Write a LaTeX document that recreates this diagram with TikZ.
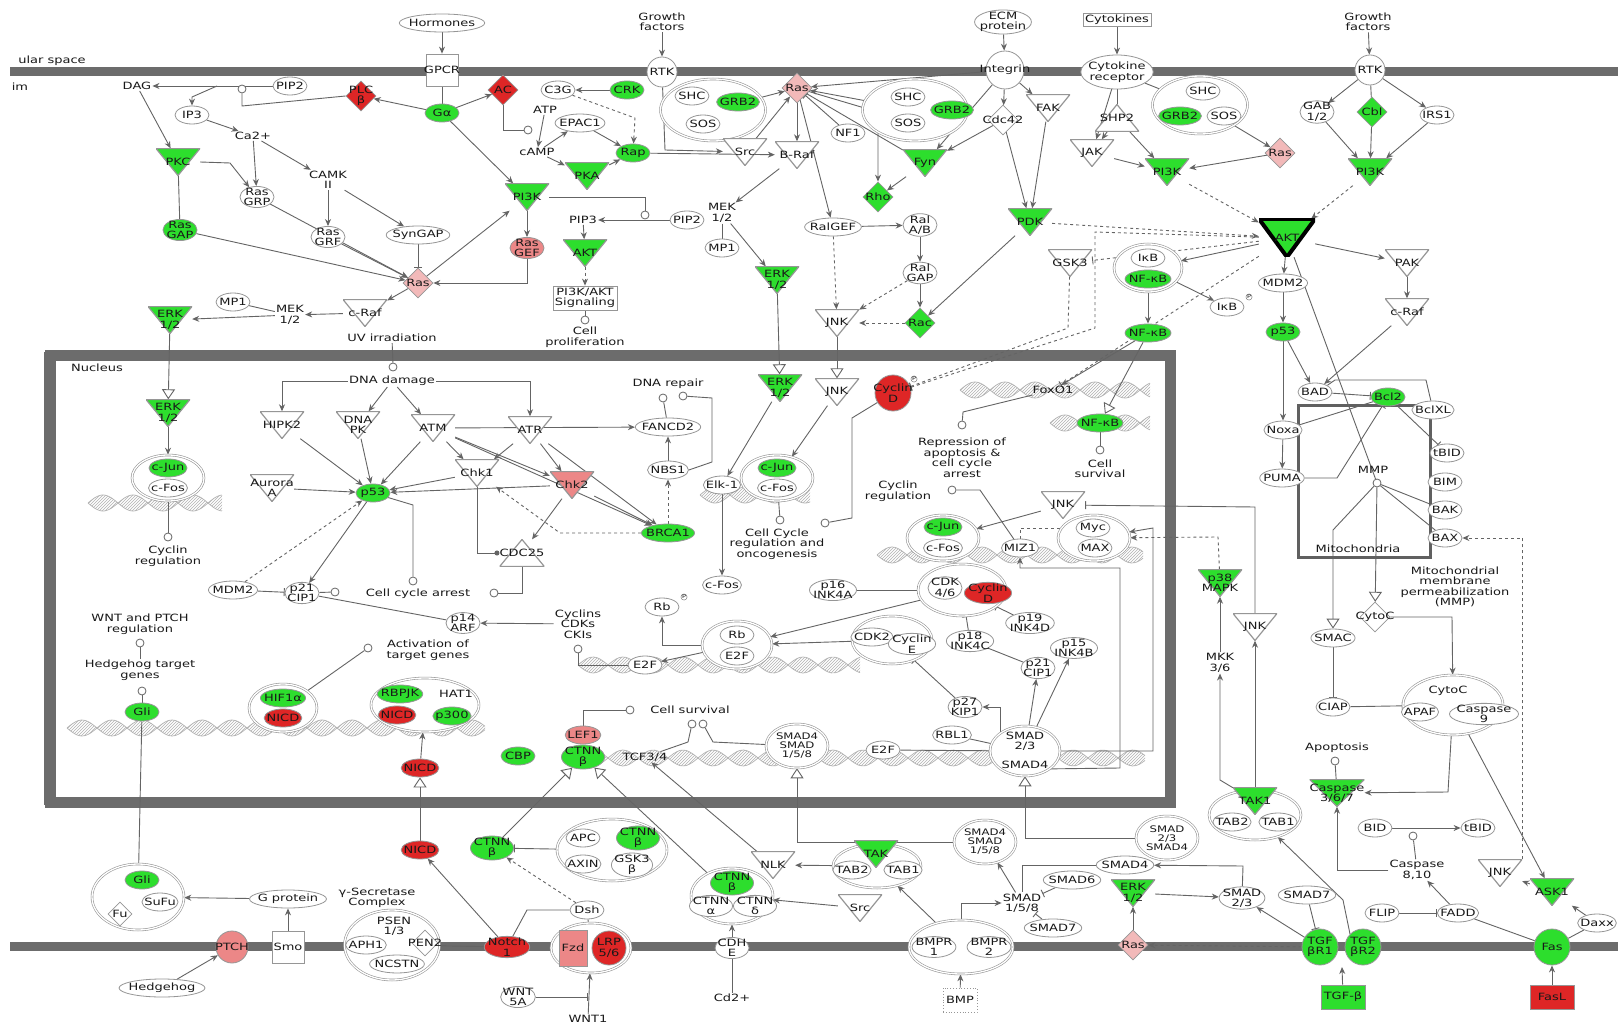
\documentclass[tikz,border=0pt]{standalone}
\usepackage{fontspec}
\setmainfont{DejaVu Sans}[FakeStretch=1.3]
\usetikzlibrary{shapes.geometric,arrows.meta,patterns}
\definecolor{gG}{RGB}{45,222,45}
\definecolor{rR}{RGB}{222,38,38}
\definecolor{pP}{RGB}{236,135,135}
\definecolor{lP}{RGB}{242,185,185}
\definecolor{edg}{RGB}{100,100,100}
\definecolor{olc}{RGB}{150,150,150}
\definecolor{mem}{RGB}{108,108,108}
\pgfdeclarelayer{back}
\pgfdeclarelayer{edges}
\pgfsetlayers{back,edges,main}
\newcommand{\dnastrand}[3]{%
 \fill[pattern=north east lines, pattern color=gray!60] plot[domain=#1:#2,samples=90,smooth] (\x,{#3+8*sin(6*(\x-#1))}) -- plot[domain=#2:#1,samples=90,smooth] (\x,{#3-8*sin(6*(\x-#1))}) -- cycle;
 \draw[gray!60,line width=0.7pt] plot[domain=#1:#2,samples=90,smooth] (\x,{#3+8*sin(6*(\x-#1))});
 \draw[gray!60,line width=0.7pt] plot[domain=#1:#2,samples=90,smooth] (\x,{#3-8*sin(6*(\x-#1))});
}
\begin{document}
\begin{tikzpicture}[x=1pt,y=-1pt,
 every node/.style={font=\fontsize{10}{10.5}\selectfont, text=black!90, align=center},
 ellN/.style={ellipse, draw=olc, fill=#1, inner xsep=-3pt, inner ysep=-1.5pt, minimum width=34pt, minimum height=18pt, line width=0.8pt},
 ellN/.default=white,
 triN/.style={rectangle, inner sep=0pt, minimum width=44pt, minimum height=27pt, path picture={\fill[#1] (path picture bounding box.north west) -- (path picture bounding box.north east) -- (path picture bounding box.south) -- cycle; \draw[olc, line width=1.2pt] (path picture bounding box.north west) -- (path picture bounding box.north east) -- (path picture bounding box.south) -- cycle;}},
 triN/.default=white,
 triupN/.style={rectangle, inner sep=0pt, minimum width=44pt, minimum height=27pt, path picture={\fill[#1] (path picture bounding box.south west) -- (path picture bounding box.south east) -- (path picture bounding box.north) -- cycle; \draw[olc, line width=1.2pt] (path picture bounding box.south west) -- (path picture bounding box.south east) -- (path picture bounding box.north) -- cycle;}},
 triupN/.default=white,
 diaN/.style={diamond, draw=olc, fill=#1, inner sep=0pt, minimum width=30pt, minimum height=30pt, line width=0.8pt},
 diaN/.default=white,
 circN/.style={circle, draw=olc, fill=#1, inner sep=0pt, minimum size=30pt, line width=0.8pt},
 circN/.default=white,
 boxN/.style={rectangle, draw=olc, fill=#1, inner sep=2pt, line width=0.8pt},
 boxN/.default=white,
 cpxN/.style={ellipse, draw=olc, double=white, double distance=1.3pt, fill=white, inner sep=0pt, line width=0.6pt},
 outc/.style={circle, draw=edg, fill=white, inner sep=0pt, minimum size=8pt, line width=0.8pt},
 txtN/.style={inner sep=1pt},
 phos/.style={circle, draw=edg, fill=white, inner sep=0.3pt, font=\fontsize{5}{5}\selectfont},
 smallf/.style={font=\fontsize{9}{9}\selectfont},
 lnk/.style={draw=edg, line width=0.9pt},
 arw/.style={lnk, -{Stealth[length=7pt,width=6pt]}},
 inhib/.style={lnk, -{Bar[width=8pt]}},
 trarr/.style={lnk, -{Triangle[length=10pt,width=13pt,fill=white]}},
 dotarr/.style={lnk, -{Circle[length=5pt]}}
]
\useasboundingbox (0,0) rectangle (1618,1027);
\begin{pgfonlayer}{back}
\fill[white] (0,0) rectangle (1618,1027);
\draw[mem, line width=9pt] (10,72) -- (1618,72);
\draw[mem, line width=9pt] (10,946) -- (1618,946);
\draw[mem, line width=11pt] (50,355) rectangle (1170,802);
\draw[mem, line width=6pt] (47,352) -- (47,805);
\draw[gray!75!black, line width=3pt] (1298,405) rectangle (1430,557);
\dnastrand{88}{222}{503}
\dnastrand{67}{485}{728}
\dnastrand{578}{1145}{758}
\dnastrand{578}{860}{665}
\dnastrand{960}{1150}{390}
\dnastrand{1050}{1150}{423}
\dnastrand{700}{810}{495}
\dnastrand{877}{1143}{555}
\end{pgfonlayer}
\node[txtN] (ularspace) at (52,61) {ular space};
\node[txtN] (imlbl) at (20,87) {im};
% ---------- top ----------
\node[ellN] (hormones) at (442,23) {Hormones};
\node[boxN, minimum width=32pt, minimum height=32pt, label={center:GPCR}] (gpcr) at (442,70) {};
\node[txtN] (gf1) at (662,22) {Growth\\factors};
\node[circN, label={center:RTK}] (rtk1) at (662,72) {};
\node[ellN] (ecm) at (1003,22) {ECM\\protein};
\node[circN, minimum size=38pt, label={center:Integrin}] (integrin) at (1005,70) {};
\node[boxN] (cytokines) at (1117,20) {Cytokines};
\node[ellN, minimum width=52pt, minimum height=34pt] (cytrec) at (1117,72) {Cytokine\\receptor};
\node[txtN] (gf2) at (1368,22) {Growth\\factors};
\node[circN, label={center:RTK}] (rtk2) at (1370,70) {};
\node[txtN] (dag) at (137,86) {DAG};
\node[ellN] (pip2a) at (290,86) {PIP2};
\node[outc] (c1) at (242,89) {};
\coordinate (j1) at (217,86);
\node[diaN=rR, label={center:PLC\\β}] (plc) at (361,96) {};
\node[ellN] (ip3) at (192,115) {IP3};
\node[txtN] (ca) at (253,136) {Ca2+};
\node[triN=gG] (pkc) at (178,162) {PKC};
\node[ellN] (rasgrp) at (257,197) {Ras\\GRP};
\node[txtN] (camk) at (328,180) {CAMK\\II};
\node[ellN] (rasgrf) at (328,237) {Ras\\GRF};
\node[ellN] (syngap) at (418,235) {SynGAP};
\node[ellN=gG] (rasgap) at (180,230) {Ras\\GAP};
\node[diaN=lP, label={center:Ras}] (ras1) at (418,283) {};
\node[ellN] (mp1a) at (233,302) {MP1};
\node[txtN] (mek1) at (290,315) {MEK\\1/2};
\node[triN] (craf1) at (365,313) {c-Raf};
\node[triN=gG] (erk1) at (170,320) {ERK\\1/2};
\node[txtN] (uv) at (392,338) {UV irradiation};
\node[ellN=gG] (galpha) at (442,113) {Gα};
\node[diaN=rR, label={center:AC}] (ac) at (503,90) {};
\node[ellN] (c3g) at (558,90) {C3G};
\node[ellN=gG] (crk) at (627,90) {CRK};
\node[txtN] (atp) at (545,110) {ATP};
\node[outc] (c24) at (528,130) {};
\node[ellN] (epac) at (580,123) {EPAC1};
\node[txtN] (camp) at (537,152) {cAMP};
\node[ellN=gG] (rap) at (633,153) {Rap};
\node[triN=gG] (pka) at (587,176) {PKA};
\node[cpxN, minimum width=105pt, minimum height=62pt] (cpx1) at (713,110) {};
\node[ellN] (shc1) at (692,96) {SHC};
\node[ellN=gG] (grb1) at (738,102) {GRB2};
\node[ellN] (sos1) at (703,124) {SOS};
\node[diaN=lP, label={center:Ras}] (ras2) at (797,88) {};
\node[triN] (src1) at (745,152) {Src};
\node[triN] (braf) at (797,155) {B-Raf};
\node[triN=gG] (pi3k1) at (527,197) {PI3K};
\node[txtN] (pip3) at (583,220) {PIP3};
\node[outc] (c2) at (645,215) {};
\node[ellN] (pip2b) at (687,220) {PIP2};
\node[ellN=pP] (rasgef) at (527,248) {Ras\\GEF};
\node[triN=gG] (akt1) at (585,253) {AKT};
\node[boxN] (pi3kakt) at (585,298) {PI3K/AKT\\Signaling};
\node[outc] (c3) at (585,320) {};
\node[txtN] (cellprolif) at (585,337) {Cell\\proliferation};
\node[txtN] (mek2) at (722,213) {MEK\\1/2};
\node[ellN] (mp1b) at (722,248) {MP1};
\node[triN=gG] (erk2) at (777,280) {ERK\\1/2};
\node[cpxN, minimum width=105pt, minimum height=62pt] (cpx2) at (915,110) {};
\node[ellN] (shc2) at (908,97) {SHC};
\node[ellN=gG] (grb2b) at (952,110) {GRB2};
\node[ellN] (sos2) at (908,123) {SOS};
\node[diaN, label={center:Cdc42}] (cdc42) at (1003,120) {};
\node[triN] (fak) at (1048,108) {FAK};
\node[ellN] (nf1) at (848,133) {NF1};
\node[triN=gG] (fyn) at (925,163) {Fyn};
\node[diaN=gG, label={center:Rho}] (rho) at (878,197) {};
\node[triupN] (shp2) at (1117,118) {SHP2};
\node[triN] (jak) at (1092,153) {JAK};
\node[triN=gG] (pi3k2) at (1167,172) {PI3K};
\node[cpxN, minimum width=95pt, minimum height=58pt] (cpx3) at (1200,105) {};
\node[ellN] (shc3) at (1203,91) {SHC};
\node[ellN=gG] (grb3) at (1180,116) {GRB2};
\node[ellN] (sos3) at (1224,116) {SOS};
\node[diaN=lP, label={center:Ras}] (ras3) at (1280,153) {};
\node[ellN] (gab) at (1317,112) {GAB\\1/2};
\node[diaN=gG, label={center:Cbl}] (cbl) at (1372,112) {};
\node[ellN] (irs1) at (1437,115) {IRS1};
\node[triN=gG] (pi3k3) at (1370,172) {PI3K};
\node[ellN] (ralgef) at (833,227) {RalGEF};
\node[ellN] (ralab) at (920,225) {Ral\\A/B};
\node[ellN] (ralgap) at (920,273) {Ral\\GAP};
\node[triN=gG] (pdk) at (1030,222) {PDK};
\node[triN] (jnk1) at (837,323) {JNK};
\node[diaN=gG, label={center:Rac}] (rac) at (920,323) {};
\node[triN] (gsk3) at (1070,263) {GSK3};
\node[cpxN, minimum width=68pt, minimum height=48pt] (cpx4) at (1148,268) {};
\node[ellN] (ikb1) at (1148,258) {IκB};
\node[ellN=gG] (nfkb1) at (1148,279) {NF-κB};
\node[ellN=gG] (nfkb2) at (1148,333) {NF-κB};
\node[ellN] (ikb2) at (1227,307) {IκB};
\node[phos] (ph1) at (1249,297) {P};
\node[rectangle, inner sep=0pt, minimum width=56pt, minimum height=38pt, path picture={\fill[gG] (path picture bounding box.north west) -- (path picture bounding box.north east) -- (path picture bounding box.south) -- cycle; \draw[black, line width=4pt] (path picture bounding box.north west) -- (path picture bounding box.north east) -- (path picture bounding box.south) -- cycle;}] (akt) at (1287,238) {AKT};
\node[ellN] (mdm2b) at (1283,283) {MDM2};
\node[triN] (pak) at (1407,263) {PAK};
\node[triN] (craf2) at (1407,312) {c-Raf};
\node[ellN=gG] (p53b) at (1283,332) {p53};
% ---------- nucleus ----------
\node[txtN] (nucleus) at (97,368) {Nucleus};
\node[triN=gG] (erk3) at (168,413) {ERK\\1/2};
\node[cpxN, minimum width=72pt, minimum height=46pt] (cpx5) at (168,478) {};
\node[ellN=gG] (cjun1) at (168,468) {c-Jun};
\node[ellN] (cfos1) at (168,488) {c-Fos};
\node[outc] (c4) at (168,537) {};
\node[txtN] (cycreg1) at (168,556) {Cyclin\\regulation};
\node[outc] (c5) at (393,367) {};
\node[txtN] (dnadmg) at (392,381) {DNA damage};
\node[triN] (hipk2) at (282,425) {HIPK2};
\node[triN] (dnapk) at (358,425) {DNA\\PK};
\node[triN] (atm) at (433,428) {ATM};
\node[triN] (atr) at (530,430) {ATR};
\node[triN] (aurora) at (272,488) {Aurora\\A};
\node[ellN=gG] (p53a) at (373,493) {p53};
\node[triN] (chk1) at (477,473) {Chk1};
\node[triN=pP] (chk2) at (572,485) {Chk2};
\node[triupN] (cdc25) at (522,553) {CDC25};
\node[ellN] (fancd2) at (668,427) {FANCD2};
\node[ellN] (nbs1) at (668,470) {NBS1};
\node[ellN=gG] (brca1) at (668,533) {BRCA1};
\node[txtN] (dnarep) at (668,384) {DNA repair};
\node[outc] (c6) at (663,398) {};
\node[outc] (c7) at (683,396) {};
\node[ellN] (mdm2a) at (233,590) {MDM2};
\node[ellN] (p21a) at (302,593) {p21\\CIP1};
\node[outc] (c8) at (335,592) {};
\node[txtN] (cellcyc) at (418,594) {Cell cycle arrest};
\node[outc] (c9) at (413,581) {};
\node[outc] (c10) at (494,593) {};
\node[ellN] (p14) at (463,623) {p14\\ARF};
\node[txtN] (cyclins) at (578,624) {Cyclins\\CDKs\\CKIs};
\node[outc] (c11) at (578,649) {};
\node[txtN] (wntptch) at (140,624) {WNT and PTCH\\regulation};
\node[outc] (c12) at (140,643) {};
\node[txtN] (hhtarget) at (140,670) {Hedgehog target\\genes};
\node[outc] (c25) at (142,691) {};
\node[txtN] (activ) at (428,650) {Activation of\\target genes};
\node[outc] (c13) at (368,648) {};
\node[triN=gG] (erk4) at (780,388) {ERK\\1/2};
\node[triN] (jnk2) at (837,392) {JNK};
\node[circN=rR, minimum size=36pt, label={center:Cyclin\\D}] (cycd1) at (893,393) {};
\node[phos] (ph2) at (914,379) {P};
\node[txtN] (foxo1) at (1053,390) {FoxO1};
\node[outc] (c14) at (962,425) {};
\node[txtN] (repress) at (962,458) {Repression of\\apoptosis \&\\cell cycle\\arrest};
\node[ellN=gG] (nfkb3) at (1100,423) {NF-κB};
\node[outc] (c15) at (1100,450) {};
\node[txtN] (cellsurv1) at (1100,469) {Cell\\survival};
\node[ellN] (elk1) at (722,485) {Elk-1};
\node[cpxN, minimum width=72pt, minimum height=46pt] (cpx6) at (777,478) {};
\node[ellN=gG] (cjun2) at (777,468) {c-Jun};
\node[ellN] (cfos2) at (777,488) {c-Fos};
\node[outc] (c16) at (780,520) {};
\node[outc] (c16b) at (825,523) {};
\node[txtN] (ccro) at (777,544) {Cell Cycle\\regulation and\\oncogenesis};
\node[ellN] (cfos3) at (722,585) {c-Fos};
\node[ellN] (rb1) at (662,607) {Rb};
\node[phos] (ph3) at (684,597) {P};
\node[cpxN, minimum width=70pt, minimum height=48pt] (cpx7) at (737,645) {};
\node[ellN] (rb2) at (737,635) {Rb};
\node[ellN] (e2f1) at (737,656) {E2F};
\node[ellN] (e2f2) at (645,665) {E2F};
\node[txtN] (cycreg2) at (898,491) {Cyclin\\regulation};
\node[outc] (c17) at (952,490) {};
\node[triN] (jnk3) at (1063,505) {JNK};
\node[cpxN, minimum width=72pt, minimum height=46pt] (cpx8) at (943,538) {};
\node[ellN=gG] (cjun3) at (943,527) {c-Jun};
\node[ellN] (cfos4) at (943,548) {c-Fos};
\node[ellN] (miz1) at (1020,548) {MIZ1};
\node[cpxN, minimum width=72pt, minimum height=46pt] (cpx9) at (1094,538) {};
\node[ellN] (myc) at (1093,528) {Myc};
\node[ellN] (max) at (1095,548) {MAX};
\node[ellN] (p16) at (833,590) {p16\\INK4A};
\node[cpxN, minimum width=88pt, minimum height=52pt] (cpx10) at (962,590) {};
\node[ellN] (cdk46) at (945,588) {CDK\\4/6};
\node[ellN=rR] (cycd2) at (988,593) {Cyclin\\D};
\node[cpxN, minimum width=80pt, minimum height=48pt] (cpx11) at (892,640) {};
\node[ellN] (cdk2) at (872,637) {CDK2};
\node[ellN] (cyce) at (912,644) {Cyclin\\E};
\node[ellN] (p18) at (970,641) {p18\\INK4C};
\node[ellN] (p19) at (1030,623) {p19\\INK4D};
\node[ellN] (p15) at (1074,648) {p15\\INK4B};
\node[ellN] (p21b) at (1038,668) {p21\\CIP1};
\node[ellN] (p27) at (965,707) {p27\\KIP1};
\node[ellN] (rbl1) at (952,735) {RBL1};
\node[ellN] (e2f3) at (883,750) {E2F};
\node[cpxN, minimum width=70pt, minimum height=50pt] (cpx12) at (1025,751) {};
\node[txtN] (smad23a) at (1025,741) {SMAD\\2/3};
\node[txtN] (smad4a) at (1025,765) {SMAD4};
\node[cpxN, smallf, minimum width=62pt, minimum height=44pt] (cpx13) at (797,746) {SMAD4\\SMAD\\1/5/8};
\node[ellN=pP] (lef1) at (583,735) {LEF1};
\node[ellN=gG] (cbp) at (518,756) {CBP};
\node[ellN=gG] (ctnnb1) at (583,757) {CTNN\\β};
\node[txtN] (tcf) at (645,757) {TCF3/4};
\node[outc] (c18) at (630,710) {};
\node[txtN] (cellsurv2) at (690,710) {Cell survival};
\node[outc] (c19) at (692,724) {};
\node[outc] (c20) at (703,724) {};
\node[ellN=gG] (gli1) at (142,712) {Gli};
\node[cpxN, minimum width=68pt, minimum height=48pt] (cpx14) at (283,708) {};
\node[ellN=gG] (hif1) at (283,698) {HIF1α};
\node[ellN=rR] (nicd1) at (283,718) {NICD};
\node[cpxN, minimum width=108pt, minimum height=54pt] (cpx15) at (425,705) {};
\node[ellN=gG] (rbpjk) at (400,694) {RBPJK};
\node[txtN] (hat1) at (456,694) {HAT1};
\node[ellN=rR] (nicd2) at (397,715) {NICD};
\node[ellN=gG] (p300) at (452,716) {p300};
\node[ellN=rR] (nicd3) at (420,768) {NICD};
% ---------- mitochondria / right ----------
\node[ellN] (bad) at (1315,392) {BAD};
\node[ellN=gG] (bcl2) at (1388,397) {Bcl2};
\node[ellN] (bclxl) at (1433,410) {BclXL};
\node[ellN] (noxa) at (1283,430) {Noxa};
\node[ellN] (puma) at (1282,478) {PUMA};
\node[txtN] (mmp) at (1373,470) {MMP};
\node[outc] (c21) at (1377,483) {};
\node[ellN] (tbid1) at (1447,453) {tBID};
\node[ellN] (bim) at (1445,482) {BIM};
\node[ellN] (bak) at (1445,510) {BAK};
\node[ellN] (bax) at (1445,538) {BAX};
\node[txtN] (mito) at (1358,549) {Mitochondria};
\node[txtN] (mmptxt) at (1455,587) {Mitochondrial\\membrane\\permeabilization\\(MMP)};
\node[triN=gG] (p38) at (1220,583) {p38\\MAPK};
\node[triN] (jnk4) at (1255,627) {JNK};
\node[txtN] (mkk) at (1220,663) {MKK\\3/6};
\node[ellN] (smac) at (1333,638) {SMAC};
\node[diaN, label={center:CytoC}] (cytoc) at (1375,617) {};
\node[ellN] (ciap) at (1333,707) {CIAP};
\node[cpxN, minimum width=100pt, minimum height=60pt] (cpx16) at (1453,705) {};
\node[txtN] (cytoc2) at (1448,691) {CytoC};
\node[ellN] (apaf) at (1420,712) {APAF};
\node[ellN] (casp9) at (1484,714) {Caspase\\9};
\node[txtN] (apoptosis) at (1337,748) {Apoptosis};
\node[outc] (c22) at (1335,761) {};
\node[triN=gG] (casp3) at (1337,793) {Caspase\\3/6/7};
\node[cpxN, minimum width=92pt, minimum height=50pt] (cpx17) at (1255,815) {};
\node[triN=gG] (tak1) at (1255,801) {TAK1};
\node[ellN] (tab2b) at (1232,822) {TAB2};
\node[ellN] (tab1b) at (1278,822) {TAB1};
\node[ellN] (bid) at (1375,828) {BID};
\node[ellN] (tbid2) at (1478,828) {tBID};
\node[outc] (c23) at (1413,836) {};
\node[txtN] (casp8) at (1417,870) {Caspase\\8,10};
\node[ellN] (smad23c) at (1242,898) {SMAD\\2/3};
\node[ellN] (smad7b) at (1307,895) {SMAD7};
\node[ellN] (flip) at (1382,913) {FLIP};
\node[ellN] (fadd) at (1458,913) {FADD};
\node[triN] (jnk5) at (1500,873) {JNK};
\node[triN=gG] (ask1) at (1552,892) {ASK1};
\node[ellN] (daxx) at (1597,923) {Daxx};
\node[circN=gG, minimum size=36pt, label={center:TGF\\βR1}] (tgfbr1) at (1320,947) {};
\node[circN=gG, minimum size=36pt, label={center:TGF\\βR2}] (tgfbr2) at (1363,947) {};
\coordinate (tgfr) at (1342,967);
\node[circN=gG, minimum size=36pt, label={center:Fas}] (fas) at (1552,947) {};
\node[boxN=gG, minimum width=44pt, minimum height=24pt] (tgfb) at (1343,997) {TGF-β};
\node[boxN=rR, minimum width=44pt, minimum height=24pt] (fasl) at (1552,997) {FasL};
% ---------- bottom ----------
\node[cpxN, minimum width=92pt, minimum height=66pt] (cpx18) at (138,897) {};
\node[ellN=gG] (gli2) at (142,880) {Gli};
\node[ellN] (sufu) at (160,902) {SuFu};
\node[diaN, minimum width=24pt, minimum height=24pt, label={center:Fu}] (fu) at (120,914) {};
\node[ellN] (gprot) at (288,899) {G protein};
\node[boxN, minimum width=32pt, minimum height=32pt, label={center:Smo}] (smo) at (288,947) {};
\node[circN=pP, minimum size=32pt, label={center:PTCH}] (ptch) at (232,947) {};
\node[ellN] (hedgehog) at (162,988) {Hedgehog};
\node[txtN] (gamma) at (377,898) {γ-Secretase\\Complex};
\node[cpxN, minimum width=95pt, minimum height=70pt] (cpx19) at (392,945) {};
\node[txtN] (psen) at (394,926) {PSEN\\1/3};
\node[ellN] (aph1) at (366,945) {APH1};
\node[diaN, minimum width=26pt, minimum height=26pt, label={center:PEN2}] (pen2) at (425,943) {};
\node[ellN] (ncstn) at (397,964) {NCSTN};
\node[ellN=rR] (notch) at (507,947) {Notch\\1};
\node[ellN=rR] (nicd4) at (420,850) {NICD};
\node[ellN=gG] (ctnnb2) at (492,848) {CTNN\\β};
\node[cpxN, minimum width=110pt, minimum height=62pt] (cpx20) at (612,850) {};
\node[ellN] (apc) at (583,838) {APC};
\node[ellN=gG] (ctnnb3) at (638,838) {CTNN\\β};
\node[ellN] (axin) at (583,864) {AXIN};
\node[ellN] (gsk3b) at (632,865) {GSK3\\β};
\node[ellN] (dsh) at (587,910) {Dsh};
\node[cpxN, minimum width=80pt, minimum height=50pt] (cpx21) at (591,948) {};
\node[boxN=pP, minimum width=28pt, minimum height=36pt, label={center:Fzd}] (fzd) at (573,948) {};
\node[circN=rR, minimum size=34pt, label={center:LRP\\5/6}] (lrp) at (609,948) {};
\node[ellN] (wnt5a) at (518,997) {WNT\\5A};
\coordinate (w1) at (588,997);
\node[txtN] (wnt1) at (588,1019) {WNT1};
\node[cpxN, minimum width=82pt, minimum height=56pt] (cpx22) at (732,896) {};
\node[ellN=gG] (ctnnb4) at (732,883) {CTNN\\β};
\node[ellN] (ctnna) at (711,906) {CTNN\\α};
\node[ellN] (ctnnd) at (755,906) {CTNN\\δ};
\node[ellN] (cdh) at (732,948) {CDH\\E};
\node[txtN] (cd2) at (732,998) {Cd2+};
\node[triN] (nlk) at (773,865) {NLK};
\node[cpxN, minimum width=88pt, minimum height=44pt] (cpx23) at (877,866) {};
\node[triN=gG] (tak2) at (876,854) {TAK};
\node[ellN] (tab2a) at (852,870) {TAB2};
\node[ellN] (tab1a) at (903,870) {TAB1};
\node[triN] (src2) at (860,908) {Src};
\node[cpxN, minimum width=104pt, minimum height=54pt] (cpx24) at (961,947) {};
\node[ellN] (bmpr1) at (934,947) {BMPR\\1};
\node[ellN] (bmpr2) at (989,947) {BMPR\\2};
\node[boxN, dotted, minimum width=34pt, minimum height=24pt] (bmp) at (960,1000) {BMP};
\node[cpxN, smallf, minimum width=62pt, minimum height=44pt] (smad4158b) at (985,842) {SMAD4\\SMAD\\1/5/8};
\node[txtN] (smad158) at (1022,903) {SMAD\\1/5/8};
\node[ellN] (smad6) at (1072,880) {SMAD6};
\node[ellN] (smad7a) at (1053,928) {SMAD7};
\node[cpxN, smallf, minimum width=62pt, minimum height=44pt] (smad23b) at (1167,838) {SMAD\\2/3\\SMAD4};
\node[ellN] (smad4b) at (1125,865) {SMAD4};
\node[triN=gG] (erk5) at (1133,893) {ERK\\1/2};
\node[diaN=lP, label={center:Ras}] (ras4) at (1133,945) {};
% ================= edges =================
\begin{pgfonlayer}{edges}
\draw[arw] (pip2a) -- (dag);
\draw[lnk] (plc.west) -- (242,106) -- (c1);
\draw[arw] (j1) -- (192,97) -- (ip3);
\draw[arw] (dag) -- (pkc);
\draw[arw] (ip3) -- (ca);
\draw[arw] (ca) -- (rasgrp);
\draw[arw] (ca) -- (camk);
\draw[arw] (pkc.east) -- (230,163) -- (rasgrp);
\draw[lnk] (pkc) -- (rasgap);
\draw[arw] (camk) -- (rasgrf);
\draw[arw] (camk) -- (syngap);
\draw[arw] (rasgrp) -- (ras1);
\draw[arw] (rasgrf) -- (ras1);
\draw[arw] (rasgap) -- (ras1);
\draw[inhib] (syngap) -- (ras1);
\draw[arw] (ras1) -- (pi3k1);
\draw[arw] (ras1) -- (craf1);
\draw[arw] (craf1) -- (mek1);
\draw[arw] (mek1) -- (erk1);
\draw[lnk] (mp1a) -- (mek1);
\draw[arw] (hormones) -- (gpcr);
\draw[lnk] (gpcr) -- (galpha);
\draw[arw] (galpha) -- (plc);
\draw[arw] (galpha) -- (ac);
\draw[arw] (galpha) -- (pi3k1);
\draw[lnk] (ac) -- (503,130) -- (c24);
\draw[arw] (atp) -- (camp);
\draw[arw] (camp) -- (epac);
\draw[arw] (camp) -- (pka);
\draw[arw] (epac) -- (rap);
\draw[arw] (pka) -- (rap);
\draw[arw] (crk) -- (c3g);
\draw[arw, dashed] (c3g) -- (635,118) -- (rap);
\draw[arw] (rap) -- (braf);
\draw[arw] (gf1) -- (rtk1);
\draw[arw] (rtk1) -- (665,150) -- (src1);
\draw[arw] (cpx1) -- (ras2);
\draw[arw] (ras2) -- (braf);
\draw[arw] (src1) -- (ras2);
\draw[arw] (braf) -- (mek2);
\draw[lnk] (mek2) -- (mp1b);
\draw[arw] (mek2) -- (erk2);
\draw[arw] (pi3k1) -- (rasgef);
\draw[arw] (rasgef) -- (527,283) -- (ras1);
\draw[lnk] (pi3k1.east) -- (645,197) -- (c2);
\draw[arw] (pip2b) -- (pip3);
\draw[arw] (pip3) -- (akt1);
\draw[arw, dashed] (akt1) -- (pi3kakt);
\draw[lnk] (pi3kakt) -- (c3);
\draw[arw] (cpx2) -- (ras2);
\draw[inhib] (nf1) -- (ras2);
\draw[arw] (ras2) -- (878,112) -- (rho);
\draw[lnk] (fyn) -- (ras2);
\draw[arw] (ras2) -- (ralgef);
\draw[arw] (integrin) -- (ras2);
\draw[arw] (fyn) -- (rho);
\draw[arw] (ecm) -- (integrin);
\draw[arw] (integrin) -- (cdc42);
\draw[arw] (integrin) -- (fak);
\draw[arw] (integrin) -- (fyn);
\draw[arw] (cdc42) -- (fyn);
\draw[arw] (cdc42) -- (pdk);
\draw[arw] (fak) -- (pdk);
\draw[arw] (ralgef) -- (ralab);
\draw[arw] (ralab) -- (ralgap);
\draw[arw] (ralgap) -- (rac);
\draw[arw, dashed] (ralgef) -- (jnk1);
\draw[arw, dashed] (ralgap) -- (jnk1);
\draw[arw, dashed] (rac) -- (jnk1);
\draw[arw] (pdk) -- (rac);
\draw[arw] (cytokines) -- (cytrec);
\draw[arw] (cytrec) -- (jak);
\draw[lnk] (cytrec) -- (shp2);
\draw[arw] (shp2) -- (jak);
\draw[arw] (shp2) -- (pi3k2);
\draw[arw] (jak) -- (pi3k2);
\draw[lnk] (cytrec) -- (cpx3);
\draw[arw] (cpx3) -- (ras3);
\draw[arw] (ras3) -- (pi3k2);
\draw[arw] (gf2) -- (rtk2);
\draw[arw] (rtk2) -- (gab);
\draw[lnk] (rtk2) -- (cbl);
\draw[arw] (rtk2) -- (irs1);
\draw[arw] (gab) -- (pi3k3);
\draw[arw] (cbl) -- (pi3k3);
\draw[arw] (irs1) -- (pi3k3);
\draw[arw, dashed] (pi3k3) -- (akt);
\draw[arw, dashed] (pi3k2) -- (akt);
\draw[arw, dashed] (pdk) -- (akt);
\draw[inhib, dashed] (akt) -- (1095,232) -- (1095,328) -- (cycd1);
\draw[inhib, dashed] (akt) -- (gsk3);
\draw[inhib, dashed] (gsk3) -- (1068,328) -- (cycd1);
\draw[inhib, dashed] (akt) -- (foxo1);
\draw[arw] (akt) -- (cpx4);
\draw[arw] (cpx4) -- (ikb2);
\draw[arw] (cpx4) -- (nfkb2);
\draw[trarr] (nfkb2) -- (nfkb3);
\draw[arw] (nfkb2) -- (foxo1);
\draw[arw] (akt) -- (mdm2b);
\draw[arw] (akt) -- (pak);
\draw[arw] (pak) -- (craf2);
\draw[arw] (mdm2b) -- (p53b);
\draw[arw] (p53b) -- (noxa);
\draw[arw] (p53b) -- (bad);
\draw[arw] (noxa) -- (puma);
\draw[arw] (craf2) -- (bad);
\draw[lnk] (akt) -- (c21);
\draw[inhib] (bad) -- (bcl2);
\draw[lnk] (bad.north east) -- (1335,380) -- (1426,380) -- (bclxl);
\draw[lnk] (bcl2) -- (noxa);
\draw[inhib] (puma) -- (1337,478) -- (bcl2);
\draw[inhib] (bcl2) -- (tbid1);
\draw[lnk] (bak) -- (c21);
\draw[lnk] (bax) -- (c21);
\draw[trarr] (c21) -- (1333,530) -- (smac);
\draw[trarr] (c21) -- (cytoc);
\draw[inhib] (smac) -- (ciap);
\draw[inhib] (ciap) -- (cpx16);
\draw[arw] (cytoc) -- (1452,617) -- (cpx16);
\draw[arw] (cpx16) -- (1448,792) -- (casp3);
\draw[lnk] (casp3) -- (c22);
\draw[arw] (cpx16) -- (ask1);
\draw[arw] (casp8.west) -- (1337,870) -- (casp3);
\draw[arw] (bid) -- (tbid2);
\draw[lnk] (casp8) -- (c23);
\draw[arw] (fadd) -- (casp8);
\draw[inhib] (flip) -- (fadd);
\draw[lnk] (fas) -- (fadd);
\draw[arw] (fasl) -- (fas);
\draw[lnk] (fas) -- (daxx);
\draw[arw] (daxx) -- (ask1);
\draw[arw] (ask1) -- (jnk5);
\draw[arw, dashed] (jnk5.north east) |- (bax);
\draw[arw] (tgfb) -- (tgfr);
\draw[arw] (tgfbr1) -- (smad23c);
\draw[inhib] (smad7b) -- (tgfbr1);
\draw[arw] (tgfbr2.north west) -- (1343,900) -- (cpx17);
\draw[arw, dashed] (tgfbr1) -- (ras4);
\draw[arw] (ras4) -- (erk5);
\draw[arw] (erk5) -- (smad23c);
\draw[arw] (smad23c) -- (1243,866) -- (smad4b);
\draw[arw] (tak1) -- (1220,780) -- (mkk);
\draw[arw] (tak1) -- (jnk4);
\draw[arw] (mkk) -- (p38);
\draw[inhib] (jnk4) -- (1255,507) -- (jnk3);
\draw[arw, dashed] (p38) -- (1218,537) -- (cpx9);
% nucleus
\draw[trarr] (erk1) -- (erk3);
\draw[arw] (erk3) -- (cpx5);
\draw[lnk] (cpx5) -- (c4);
\draw[lnk] (uv) -- (c5);
\draw[arw] (dnadmg.west) -- (282,381) -- (hipk2);
\draw[arw] (dnadmg) -- (dnapk);
\draw[arw] (dnadmg) -- (atm);
\draw[arw] (dnadmg.east) -- (530,381) -- (atr);
\draw[arw] (hipk2) -- (p53a);
\draw[arw] (dnapk) -- (p53a);
\draw[arw] (atm) -- (p53a);
\draw[arw] (aurora) -- (p53a);
\draw[arw] (chk2) -- (p53a);
\draw[arw] (chk1) -- (p53a);
\draw[arw, dashed] (mdm2a) -- (p53a);
\draw[arw] (p53a) -- (p21a);
\draw[lnk] (p53a) -- (413,505) -- (c9);
\draw[arw] (atm) -- (chk1);
\draw[arw] (atm) -- (chk2);
\draw[arw] (atr) -- (chk1);
\draw[arw] (atr) -- (chk2);
\draw[arw] (atm) -- (fancd2);
\draw[arw] (atm) -- (brca1);
\draw[arw] (atr) -- (brca1);
\draw[arw] (chk2) -- (brca1);
\draw[arw] (chk2) -- (cdc25);
\draw[dotarr] (chk1) -- (477,553) -- (cdc25);
\draw[arw, dashed] (brca1) -- (560,533) -- (chk1);
\draw[arw, dashed] (brca1) -- (nbs1);
\draw[arw] (nbs1) -- (fancd2);
\draw[lnk] (fancd2) -- (c6);
\draw[lnk] (nbs1.east) -- (712,462) -- (712,398) -- (c7);
\draw[lnk] (cdc25) -- (522,593) -- (c10);
\draw[inhib] (mdm2a) -- (p21a);
\draw[lnk] (p21a) -- (c8);
\draw[lnk] (p21a) -- (p14);
\draw[arw] (cyclins) -- (p14);
\draw[lnk] (c11) -- (578,665) -- (e2f2);
\draw[lnk] (c12) -- (hhtarget);
\draw[lnk] (gli1) -- (c25);
\draw[lnk] (cpx14) -- (c13);
\draw[arw] (nicd3) -- (cpx15);
\draw[trarr] (erk2) -- (erk4);
\draw[trarr] (jnk1) -- (jnk2);
\draw[arw] (erk4) -- (elk1);
\draw[arw] (jnk2) -- (cpx6);
\draw[lnk] (cpx6) -- (c16);
\draw[lnk] (cycd1) -- (852,418) -- (852,518) -- (c16b);
\draw[arw] (elk1) -- (cfos3);
\draw[arw] (cpx7.west) -| (rb1);
\draw[arw] (cpx7) -- (e2f2);
\draw[arw] (cpx10) -- (cpx7);
\draw[arw] (cpx11) -- (cpx7);
\draw[inhib] (p16) -- (cpx10);
\draw[inhib] (p18) -- (cpx10);
\draw[inhib] (p19) -- (cpx10);
\draw[inhib] (p27) -- (cpx11);
\draw[lnk] (p18) -- (p21b);
\draw[arw] (cpx12) -- (p21b);
\draw[arw] (cpx12) -- (p15);
\draw[arw] (cpx12.north west) |- (p27);
\draw[lnk] (rbl1) -- (cpx12);
\draw[lnk] (e2f3) -- (cpx12);
\draw[arw] (jnk3) -- (cpx8);
\draw[lnk] (miz1) -- (980,490) -- (c17);
\draw[arw, dashed] (miz1.north) |- (myc);
\draw[arw] (cpx12.east) -- (1153,751) -- (1153,528) -- (cpx9);
\draw[arw] (cpx12.south east) -- (1120,768) -- (1120,568) -- (1020,568) -- (miz1);
\draw[lnk] (foxo1) -- (963,412) -- (c14);
\draw[lnk] (nfkb3) -- (c15);
\draw[lnk] (lef1.north) |- (c18);
\draw[lnk] (c19) -- (688,742) -- (tcf);
\draw[lnk] (c20) -- (713,742) -- (cpx13);
% bottom
\draw[trarr] (ctnnb2) -- (ctnnb1);
\draw[inhib] (cpx20) -- (ctnnb2);
\draw[arw, dashed] (dsh) -- (ctnnb2);
\draw[lnk] (dsh.west) -- (527,910) -- (notch);
\draw[lnk] (cpx21) -- (dsh);
\draw[arw] (wnt1) -- (cpx21);
\draw[inhib] (wnt5a) -- (w1);
\draw[trarr] (cpx22) -- (ctnnb1);
\draw[arw] (cdh) -- (cpx22);
\draw[lnk] (cd2) -- (cdh);
\draw[arw] (src2) -- (cpx22);
\draw[arw] (nlk) -- (tcf);
\draw[arw] (cpx23) -- (nlk);
\draw[arw] (cpx24) -- (cpx23);
\draw[arw] (cpx24.north) |- (smad158);
\draw[inhib] (smad6) -- (smad158);
\draw[inhib] (smad7a) -- (smad158);
\draw[arw] (smad158) -- (smad4158b);
\draw[trarr] (smad4158b.west) -| (cpx13);
\draw[arw] (bmp) -- (cpx24);
\draw[trarr] (smad23b.west) -| (cpx12);
\draw[lnk] (smad4b) -| (smad158);
\draw[lnk] (cpx18) -- (gli1);
\draw[arw] (gprot) -- (cpx18);
\draw[arw] (smo) -- (gprot);
\draw[arw] (hedgehog) -- (ptch);
\draw[trarr] (nicd4) -- (nicd3);
\draw[arw] (notch) -- (nicd4);
\draw[lnk] (cpx19) -- (notch);
\end{pgfonlayer}
\end{tikzpicture}
\end{document}
